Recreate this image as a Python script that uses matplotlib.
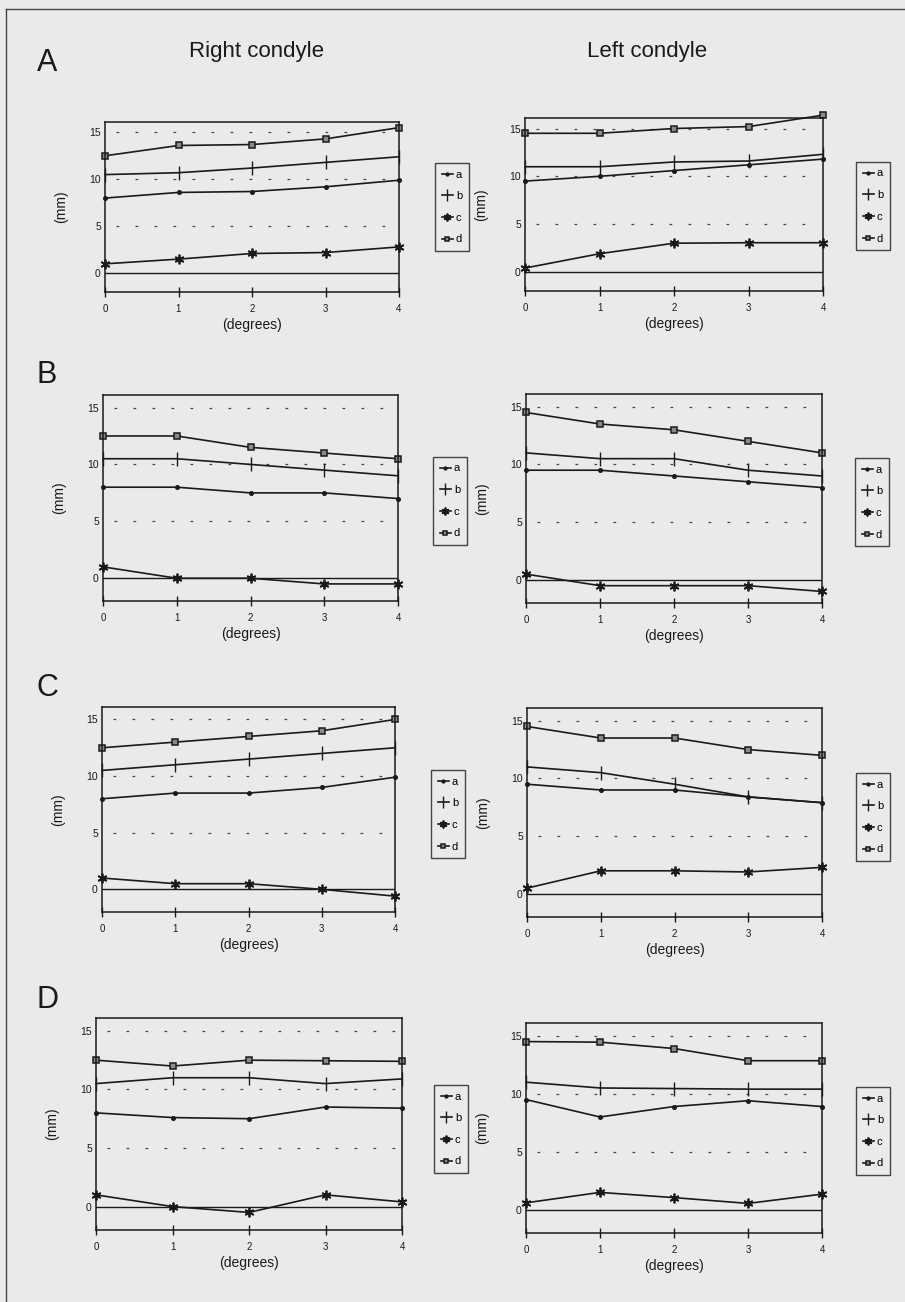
import matplotlib
matplotlib.use("Agg")
import matplotlib.pyplot as plt
from matplotlib.lines import Line2D

plt.rcParams['font.family'] = ['Liberation Sans', 'DejaVu Sans']

W, H = 905, 1302
BG = '#e9eaec'
INK = '#1a1a1a'

degrees = [0, 1, 2, 3, 4]
series_names = ['a', 'b', 'c', 'd']
row_letters = ['A', 'B', 'C', 'D']
column_titles = ['Right condyle', 'Left condyle']
y_ticks = [0, 5, 10, 15]
grid_levels = [5, 10, 15]

# Right condyle, rows A-D
A_right_a = [8.0, 8.6, 8.7, 9.2, 9.9]
A_right_b = [10.5, 10.7, 11.2, 11.8, 12.4]
A_right_c = [1.0, 1.5, 2.1, 2.2, 2.8]
A_right_d = [12.5, 13.6, 13.7, 14.3, 15.5]

B_right_a = [8.0, 8.0, 7.5, 7.5, 7.0]
B_right_b = [10.5, 10.5, 10.0, 9.5, 9.0]
B_right_c = [1.0, 0.0, 0.0, -0.5, -0.5]
B_right_d = [12.5, 12.5, 11.5, 11.0, 10.5]

C_right_a = [8.0, 8.5, 8.5, 9.0, 9.9]
C_right_b = [10.5, 11.0, 11.5, 12.0, 12.5]
C_right_c = [1.0, 0.5, 0.5, 0.0, -0.6]
C_right_d = [12.5, 13.0, 13.5, 14.0, 15.0]

D_right_a = [8.0, 7.6, 7.5, 8.5, 8.4]
D_right_b = [10.5, 11.0, 11.0, 10.5, 10.9]
D_right_c = [1.0, 0.0, -0.5, 1.0, 0.4]
D_right_d = [12.5, 12.0, 12.5, 12.45, 12.4]

# Left condyle, rows A-D
A_left_a = [9.5, 10.0, 10.6, 11.2, 11.8]
A_left_b = [11.0, 11.0, 11.5, 11.6, 12.3]
A_left_c = [0.4, 1.9, 3.0, 3.05, 3.05]
A_left_d = [14.5, 14.5, 15.0, 15.2, 16.4]

B_left_a = [9.5, 9.5, 9.0, 8.5, 8.0]
B_left_b = [11.0, 10.5, 10.5, 9.5, 9.0]
B_left_c = [0.5, -0.5, -0.5, -0.5, -1.0]
B_left_d = [14.5, 13.5, 13.0, 12.0, 11.0]

C_left_a = [9.5, 9.0, 9.0, 8.4, 7.9]
C_left_b = [11.0, 10.5, 9.5, 8.4, 7.9]
C_left_c = [0.5, 2.0, 2.0, 1.9, 2.3]
C_left_d = [14.5, 13.5, 13.5, 12.5, 12.0]

D_left_a = [9.5, 8.0, 8.9, 9.4, 8.9]
D_left_b = [11.0, 10.5, 10.45, 10.4, 10.4]
D_left_c = [0.6, 1.5, 1.05, 0.55, 1.35]
D_left_d = [14.5, 14.45, 13.9, 12.85, 12.85]

panel_data = {
    ('A', 0): [A_right_a, A_right_b, A_right_c, A_right_d],
    ('B', 0): [B_right_a, B_right_b, B_right_c, B_right_d],
    ('C', 0): [C_right_a, C_right_b, C_right_c, C_right_d],
    ('D', 0): [D_right_a, D_right_b, D_right_c, D_right_d],
    ('A', 1): [A_left_a, A_left_b, A_left_c, A_left_d],
    ('B', 1): [B_left_a, B_left_b, B_left_c, B_left_d],
    ('C', 1): [C_left_a, C_left_b, C_left_c, C_left_d],
    ('D', 1): [D_left_a, D_left_b, D_left_c, D_left_d],
}

# axes boxes in pixels: (x0, y0_top, x1, y1_bottom)
axes_px = {
    ('A', 0): (105, 122, 399, 292),
    ('B', 0): (103, 395, 398, 601),
    ('C', 0): (102, 707, 395, 912),
    ('D', 0): (96, 1018, 402, 1230),
    ('A', 1): (525, 118, 823, 291),
    ('B', 1): (526, 394, 822, 603),
    ('C', 1): (527, 708, 822, 917),
    ('D', 1): (526, 1023, 822, 1233),
}
legend_px = {
    ('A', 0): (452, 207), ('B', 0): (450, 501), ('C', 0): (448, 814), ('D', 0): (451, 1129),
    ('A', 1): (873, 206), ('B', 1): (872, 502), ('C', 1): (873, 817), ('D', 1): (873, 1131),
}
letter_y = {'A': 63, 'B': 375, 'C': 688, 'D': 1000}

styles = [
    dict(marker='o', ms=2.6, mfc=INK, mec=INK),
    dict(marker='|', ms=10, mew=1.0, mfc=INK, mec=INK),
    dict(marker=(6, 2, 0), ms=7, mew=1.3, mfc=INK, mec=INK),
    dict(marker='s', ms=4.2, mew=1.1, mfc='#8a8a8a', mec=INK),
]

fig = plt.figure(figsize=(W / 100, H / 100), dpi=100, facecolor=BG)

def fx(x):
    return x / W

def fy(y):
    return 1 - y / H

# page frame from the scan
fig.add_artist(Line2D([fx(6), fx(905)], [fy(9), fy(9)], color='#444', lw=1.0))
fig.add_artist(Line2D([fx(6), fx(6)], [fy(9), fy(1302)], color='#444', lw=1.0))

fig.text(fx(256), fy(52), column_titles[0], fontsize=16, ha='center', va='center', color=INK)
fig.text(fx(647), fy(52), column_titles[1], fontsize=16, ha='center', va='center', color=INK)
for L in row_letters:
    fig.text(fx(47), fy(letter_y[L]), L, fontsize=22, ha='center', va='center', color=INK)

for (L, col), (x0, y0, x1, y1) in axes_px.items():
    ax = fig.add_axes([fx(x0), fy(y1), (x1 - x0) / W, (y1 - y0) / H])
    ax.set_facecolor('none')
    ax.set_xlim(0, 4)
    ax.set_ylim(-2, 16.1)
    for s in ax.spines.values():
        s.set_linewidth(1.1)
        s.set_color(INK)
    ax.hlines(grid_levels, 0.15, 3.92, colors='#444', lw=0.9, linestyles=(0, (2.2, 13)))
    ax.axhline(0, color=INK, lw=1.0)
    handles = []
    for vals, name, st in zip(panel_data[(L, col)], series_names, styles):
        ln, = ax.plot(degrees, vals, color=INK, lw=1.2, clip_on=False, label=name, **st)
        handles.append(ln)
    ax.set_xticks(degrees)
    ax.set_yticks(y_ticks)
    ax.tick_params(axis='x', direction='inout', length=7, width=1.0, labelsize=7, pad=5, colors=INK)
    ax.tick_params(axis='y', length=0, labelsize=7.5, pad=3, colors=INK)
    ax.set_xlabel('(degrees)', fontsize=10, labelpad=3, color=INK)
    ax.set_ylabel('(mm)', fontsize=10, color=INK)
    ax.yaxis.set_label_coords(-37 / (x1 - x0), 0.5)
    lx, ly = legend_px[(L, col)]
    leg = fig.legend(handles=handles, loc='center', bbox_to_anchor=(fx(lx), fy(ly)),
                     fontsize=8, frameon=True, fancybox=False, edgecolor=INK,
                     facecolor='none', handlelength=1.0, handletextpad=0.25,
                     labelspacing=1.05, borderpad=0.6, borderaxespad=0, markerscale=0.8)
    leg.get_frame().set_linewidth(1.0)

fig.savefig('out.png', dpi=100, facecolor=BG)
